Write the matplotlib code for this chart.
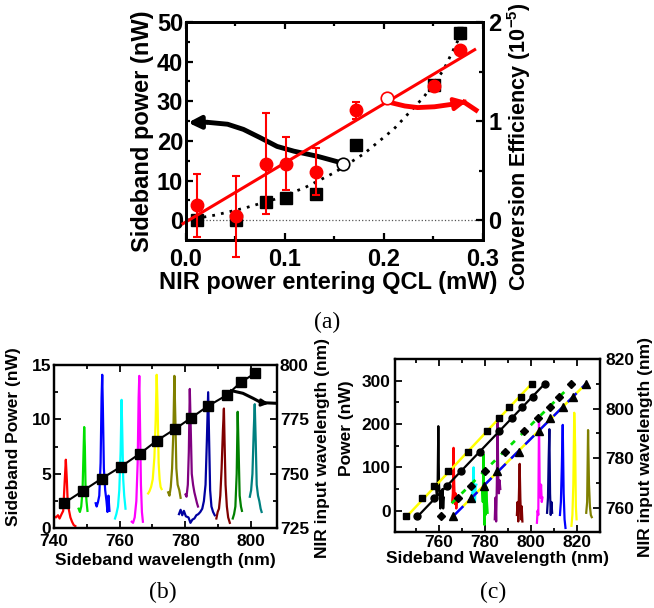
import matplotlib
matplotlib.use('Agg')
import matplotlib.pyplot as plt
from matplotlib.ticker import MultipleLocator

plt.rcParams['font.family'] = ['Liberation Sans', 'DejaVu Sans']
plt.rcParams['font.weight'] = 'bold'
plt.rcParams['axes.labelweight'] = 'bold'
plt.rcParams['mathtext.fontset'] = 'custom'
plt.rcParams['mathtext.rm'] = 'Liberation Sans:bold'
plt.rcParams['mathtext.it'] = 'Liberation Sans:bold'
plt.rcParams['mathtext.bf'] = 'Liberation Sans:bold'

# ---------------- panel (a) data ----------------
nir_power = [0.011, 0.051, 0.081, 0.101, 0.131, 0.172, 0.251, 0.277]
sideband_nw = [0.0, 0.0, 4.5, 5.7, 6.5, 18.9, 34.0, 47.2]
sideband_err = [0, 0, 0, 0, 0, 0, 0.8, 1.5]
conv_eff = [0.15, 0.04, 0.57, 0.57, 0.49, 1.11, 1.355, 1.72]
conv_err = [0.32, 0.41, 0.51, 0.27, 0.24, 0.085, 0.03, 0.04]
# dotted guide through the sideband power
guide_x = [0.0, 0.03, 0.06, 0.09, 0.12, 0.15, 0.18, 0.21, 0.24, 0.26, 0.277]
guide_y = [0.0, 1.3, 3.1, 5.3, 8.2, 12.0, 16.8, 23.0, 31.0, 37.8, 46.5]
# linear fit of conversion efficiency
eff_fit_x = [-0.003, 0.2916]
eff_fit_y = [-0.035, 1.72]
# curved arrows
arrow_k_x = [0.155, 0.133, 0.109, 0.092, 0.075, 0.058, 0.042, 0.021]
arrow_k_y = [14.6, 16.1, 17.4, 18.6, 20.8, 22.9, 24.2, 24.7]
arrow_r_x = [0.206, 0.221, 0.234, 0.251, 0.268, 0.281, 0.293]
arrow_r_y = [1.188, 1.152, 1.136, 1.144, 1.168, 1.19, 1.11]

# ---------------- panel (b) data ----------------
b_sb_wl = [743.0, 748.7, 754.5, 760.4, 766.2, 771.3, 776.8, 781.9, 786.8, 792.6, 797.1, 801.3]
b_nir_wl = [736.5, 742.1, 747.8, 753.3, 759.3, 765.2, 770.5, 775.8, 781.0, 786.1, 792.2, 796.2]
b_arrow_x = [794.1, 797.6, 800.7, 803.2, 807.9]
b_arrow_y = [788.2, 787.0, 784.7, 782.7, 782.4]
b_spec_x = [
    [740.0, 740.6, 741.2, 741.7, 742.3, 742.8, 743.2, 743.6, 743.9, 744.2, 744.6, 745.0, 745.5, 746.0, 746.5],
    [747.5, 747.9, 748.3, 748.7, 749.0, 749.2, 749.4, 749.6, 749.9, 750.2],
    [752.7, 753.0, 753.4, 753.8, 754.2, 754.5, 754.7, 754.9, 755.2, 755.6, 756.0, 756.3, 756.6, 756.9],
    [758.6, 759.0, 759.5, 759.9, 760.3, 760.6, 760.8, 761.1, 761.4, 761.8],
    [763.7, 764.1, 764.6, 765.1, 765.5, 765.8, 766.0, 766.2, 766.5, 766.8, 767.1],
    [768.7, 769.1, 769.6, 770.1, 770.6, 771.0, 771.3, 771.6, 771.9, 772.2, 772.5, 772.8],
    [774.8, 775.2, 775.6, 776.0, 776.4, 776.7, 777.0, 777.3, 777.7, 778.2, 778.6],
    [780.1, 780.4, 780.8, 781.1, 781.4, 781.7, 782.0, 782.4, 782.8, 783.2, 783.6, 783.9],
    [778.1, 778.6, 779.1, 779.6, 780.2, 781.0, 781.6, 782.2, 782.8, 783.4, 784.0, 784.6, 785.2, 785.7,
     786.2, 786.6, 787.0, 787.3, 787.6, 788.0, 788.5, 789.0],
    [789.5, 789.9, 790.3, 790.7, 791.1, 791.5, 791.8, 792.0, 792.3, 792.7, 793.1, 793.6],
    [794.5, 794.9, 795.3, 795.7, 796.0, 796.3, 796.6, 797.0, 797.3],
    [799.7, 800.1, 800.5, 800.9, 801.2, 801.5, 801.8, 802.2, 802.6, 803.0, 803.3],
]
b_spec_y = [
    [1.1, 1.0, 1.2, 0.9, 1.3, 1.6, 4.0, 6.3, 4.5, 2.2, 1.6, 1.0, 0.6, 0.3, 0.2],
    [1.8, 1.5, 2.0, 3.5, 7.0, 9.3, 7.5, 4.0, 2.5, 1.6],
    [2.3, 2.0, 2.4, 3.0, 6.0, 12.0, 14.1, 11.0, 5.5, 3.5, 2.5, 1.5, 3.0, 1.6],
    [0.9, 1.3, 2.0, 3.5, 7.0, 11.8, 9.0, 4.5, 3.0, 1.8],
    [0.6, 0.5, 1.0, 2.5, 6.0, 12.0, 14.0, 10.0, 4.0, 1.5, 0.6],
    [3.2, 3.4, 3.8, 4.5, 6.5, 10.0, 14.1, 11.0, 6.0, 4.5, 3.8, 3.6],
    [3.3, 3.0, 3.8, 5.5, 9.0, 14.0, 10.0, 5.5, 4.0, 3.5, 2.8],
    [3.1, 2.9, 4.0, 7.0, 12.8, 9.0, 5.0, 4.0, 3.3, 2.8, 2.3, 2.0],
    [1.3, 1.7, 1.2, 1.6, 1.1, 1.0, 0.5, 0.8, 0.9, 1.2, 1.3, 1.5, 1.8, 2.5,
     4.0, 8.0, 12.5, 8.0, 3.5, 2.0, 1.5, 1.2],
    [0.9, 1.5, 1.8, 3.0, 5.5, 9.0, 11.0, 8.0, 4.0, 2.0, 1.0, 0.5],
    [0.9, 1.3, 2.0, 5.0, 10.7, 7.0, 3.0, 2.0, 1.6],
    [2.9, 3.5, 5.0, 9.0, 11.4, 8.0, 4.0, 3.0, 2.5, 1.8, 1.5],
]
b_spec_colors = ['#ff0000', '#00e000', '#0000ff', '#00ffff', '#ff00ff', '#ffff00',
                 '#808000', '#800080', '#0000a0', '#800000', '#008000', '#008080']

# ---------------- panel (c) data ----------------
c_nir_rows = [756.7, 763.7, 768.8, 774.9, 782.6, 790.9, 796.0, 800.7, 804.8, 809.9]
c_sq_x = [745.6, 752.7, 757.9, 764.1, 772.6, 780.9, 786.1, 790.4, 795.6, 800.4]
c_ci_x = [750.7, 757.8, 763.4, 769.7, 778.0, 786.1, 791.6, 796.3, 800.7, 806.2]
c_di_x = [760.9, 768.2, 773.9, 779.9, 788.8, 797.0, 802.9, 808.3, 812.4, 817.5]
c_tr_x = [766.3, 773.9, 779.5, 785.3, 794.8, 803.6, 808.4, 813.8, 818.2, 824.1]
c_sq_fit = ([745.4, 800.5], [755.7, 810.2])
c_ci_fit = ([750.7, 806.2], [756.3, 810.2])
c_di_fit = ([765.6, 814.6], [761.7, 806.8])
c_tr_fit = ([766.8, 824.1], [757.0, 810.2])
c_tr_fit2 = ([770.5, 824.1], [760.5, 810.2])
c_spec_x = [
    [758.8, 759.2, 759.5, 759.8, 760.1, 760.4, 760.7, 761.0, 761.3, 761.6, 761.9, 762.2],
    [765.8, 766.1, 766.4, 766.7, 767.0, 767.3, 767.6, 767.9, 768.2],
    [774.4, 774.8, 775.1, 775.4, 775.7, 776.0, 776.3],
    [778.8, 779.1, 779.4, 779.6, 779.8, 780.1, 780.3, 780.6, 780.9, 781.2],
    [784.3, 784.6, 784.9, 785.2, 785.5, 785.8, 786.1, 786.4, 786.7],
    [793.9, 794.2, 794.5, 794.8, 795.1, 795.4, 795.7, 796.0, 796.3],
    [802.6, 802.9, 803.2, 803.5, 803.8, 804.1, 804.4, 804.7, 805.0],
    [807.0, 807.4, 807.7, 808.0, 808.3, 808.6, 808.9, 809.2],
    [812.6, 813.0, 813.4, 813.8, 814.2, 814.6, 815.0],
    [817.6, 818.0, 818.4, 818.8, 819.2, 819.5, 819.8],
    [824.0, 824.4, 824.8, 825.2, 825.6, 826.0, 826.4],
]
c_spec_y = [
    [55, 30, 60, 195, 60, 40, 5, 45, 10, 50, 5, 30],
    [20, 40, 145, 60, 15, 40, 5, 30, 20],
    [30, 60, 100, 40, 20, 55, 60],
    [50, 20, 130, 10, -33, 60, -10, 55, 20, -5],
    [-20, 30, -25, 60, 215, 80, 40, 70, 50],
    [-10, 20, -25, 40, 108, 30, -20, 10, -25],
    [-28, 0, -10, 209, 60, 30, 60, 20, 30],
    [-5, 30, 120, 188, 40, -10, 20, -5],
    [-10, 20, 100, 198, 40, -20, -40],
    [-35, -10, 60, 226, 150, 10, -20],
    [-5, 20, 186, 60, 10, -10, -15],
]
c_spec_colors = ['#000000', '#ff0000', '#00ffff', '#00e000', '#800080', '#800000',
                 '#ff00ff', '#000080', '#0000ff', '#ffff00', '#808000']

fig = plt.figure(figsize=(6.54, 6.08), dpi=100)


def style_axes(ax, ax2, size, lw):
    for sp in ax.spines.values():
        sp.set_linewidth(lw)
    for sp in ax2.spines.values():
        sp.set_linewidth(lw)
    ax.tick_params(which='both', direction='in', top=True, right=False, width=lw * 0.8, labelsize=size)
    ax.tick_params(which='major', length=5)
    ax.tick_params(which='minor', length=3)
    ax2.tick_params(which='both', direction='in', width=lw * 0.8, labelsize=size)
    ax2.tick_params(which='major', length=5)
    ax2.tick_params(which='minor', length=3)


# ================= panel (a) =================
ax = fig.add_axes([0.2844, 0.6053, 0.4541, 0.3586])
ax2 = ax.twinx()
style_axes(ax, ax2, 17, 2.0)
ax.tick_params(axis='x', pad=6)
ax.tick_params(axis='y', pad=2)
ax2.tick_params(axis='y', pad=4)

ax.plot([0, 0.3], [0, 0], ls=':', color='#555555', lw=0.9)
ax.plot(guide_x, guide_y, ls=(0, (1, 2.2)), color='k', lw=2)
ax.errorbar(nir_power, sideband_nw, yerr=sideband_err, fmt='s', color='k', ms=8,
            capsize=2, elinewidth=1.2, zorder=3)
ax.plot(arrow_k_x, arrow_k_y, color='k', lw=3.5, solid_capstyle='butt')
ax.annotate('', xy=(0.002, 24.6), xytext=(arrow_k_x[-1], arrow_k_y[-1]),
            arrowprops=dict(arrowstyle='-|>', color='k', lw=3.5, mutation_scale=18,
                            shrinkA=0, shrinkB=0))
ax.plot([0.159], [14.1], 'o', mfc='white', mec='k', ms=9, mew=1.2, zorder=4)

ax2.plot(eff_fit_x, eff_fit_y, color='#ff0000', lw=2.2, clip_on=False)
ax2.errorbar(nir_power, conv_eff, yerr=conv_err, fmt='o', color='#ff0000', ms=9,
             capsize=3, elinewidth=1.5, capthick=1.5, clip_on=False, zorder=3)
ax2.plot(arrow_r_x[:6], arrow_r_y[:6], color='#ff0000', lw=3.5)
ax2.plot(arrow_r_x[5:], arrow_r_y[5:], color='#ff0000', lw=3.5)
ax2.annotate('', xy=(0.284, 1.20), xytext=(0.268, 1.168),
             arrowprops=dict(arrowstyle='-|>', color='#ff0000', lw=3, mutation_scale=18,
                             shrinkA=0, shrinkB=0))
ax2.plot([0.203], [1.228], 'o', mfc='white', mec='#ff0000', ms=9, mew=1.2, zorder=4)

ax.set_xlim(0, 0.3)
ax.set_ylim(-5, 50)
ax2.set_ylim(-0.2, 2.0)
ax.set_xticks([0, 0.1, 0.2, 0.3])
ax.set_xticklabels(['0.0', '0.1', '0.2', '0.3'])
ax.xaxis.set_minor_locator(MultipleLocator(0.05))
ax.yaxis.set_major_locator(MultipleLocator(10))
ax.yaxis.set_minor_locator(MultipleLocator(5))
ax2.set_yticks([0, 1, 2])
ax2.set_yticklabels(['0', '1', '2'])
ax2.yaxis.set_minor_locator(MultipleLocator(0.5))

ax.set_xlabel('NIR power entering QCL (mW)', fontsize=17)
ax.xaxis.set_label_coords(0.48, -0.142)
ax.set_ylabel('Sideband power (nW)', fontsize=17)
ax.yaxis.set_label_coords(-0.108, 0.5)
ax2.set_ylabel('Conversion Efficiency (10$^{-5}$)', fontsize=15.5)
ax2.yaxis.set_label_coords(1.075, 0.43)

# ================= panel (b) =================
bx = fig.add_axes([0.0826, 0.1311, 0.341, 0.2686])
bx2 = bx.twinx()
style_axes(bx, bx2, 12.5, 1.6)
bx.tick_params(axis='x', pad=4)
bx.tick_params(axis='y', pad=2)
bx2.tick_params(axis='y', pad=2)
for xs, ys, c in zip(b_spec_x, b_spec_y, b_spec_colors):
    bx.plot(xs, ys, color=c, lw=1.6)
bx2.plot(b_sb_wl, b_nir_wl, color='k', lw=1.5, marker='s', ms=6.5)
bx2.plot(b_arrow_x, b_arrow_y, color='k', lw=2.2)
bx2.annotate('', xy=(805.5, 782.3), xytext=(803.2, 782.7),
             arrowprops=dict(arrowstyle='-|>', color='k', lw=2, mutation_scale=10,
                             shrinkA=0, shrinkB=0))
bx.set_xlim(740, 808)
bx.set_ylim(0, 15)
bx2.set_ylim(725, 800)
bx.xaxis.set_major_locator(MultipleLocator(20))
bx.xaxis.set_minor_locator(MultipleLocator(10))
bx.yaxis.set_major_locator(MultipleLocator(5))
bx.yaxis.set_minor_locator(MultipleLocator(2.5))
bx2.yaxis.set_major_locator(MultipleLocator(25))
bx2.yaxis.set_minor_locator(MultipleLocator(12.5))
bx.set_xlabel('Sideband wavelength (nm)', fontsize=12.5)
bx.xaxis.set_label_coords(0.5, -0.15)
bx.set_ylabel('Sideband Power (nW)', fontsize=12.5)
bx.yaxis.set_label_coords(-0.15, 0.56)
bx2.set_ylabel('NIR input wavelength (nm)', fontsize=12.5)
bx2.yaxis.set_label_coords(1.17, 0.49)

# ================= panel (c) =================
cx = fig.add_axes([0.604, 0.1245, 0.3135, 0.285])
cx2 = cx.twinx()
style_axes(cx, cx2, 12.5, 1.6)
cx.tick_params(axis='x', pad=2)
cx.tick_params(axis='y', pad=3)
cx2.tick_params(axis='y', pad=4)
for xs, ys, c in zip(c_spec_x, c_spec_y, c_spec_colors):
    cx.plot(xs, ys, color=c, lw=1.6)
cx2.plot(*c_sq_fit, color='#ffff00', lw=1.8)
cx2.plot(*c_ci_fit, color='k', lw=1.6)
cx2.plot(*c_di_fit, color='#00e000', lw=2, ls=(0, (2, 3)))
cx2.plot(*c_tr_fit2, color='#ffff00', lw=1.8)
cx2.plot(*c_tr_fit, color='#0000ff', lw=1.8, ls=(0, (5, 3)))
cx2.plot(c_sq_x, c_nir_rows, 's', color='k', ms=5)
cx2.plot(c_ci_x, c_nir_rows, 'o', color='k', ms=5)
cx2.plot(c_di_x, c_nir_rows, 'D', color='k', ms=4.5)
cx2.plot(c_tr_x, c_nir_rows, '^', color='k', ms=5.5)
cx.set_xlim(741, 830)
cx.set_ylim(-50, 350)
cx2.set_ylim(750, 820)
cx.xaxis.set_major_locator(MultipleLocator(20))
cx.xaxis.set_minor_locator(MultipleLocator(10))
cx.yaxis.set_major_locator(MultipleLocator(100))
cx.yaxis.set_minor_locator(MultipleLocator(50))
cx2.yaxis.set_major_locator(MultipleLocator(20))
cx2.yaxis.set_minor_locator(MultipleLocator(10))
cx.set_xlabel('Sideband Wavelength (nm)', fontsize=12.5)
cx.xaxis.set_label_coords(0.5, -0.11)
cx.set_ylabel('Power (nW)', fontsize=12.5)
cx.yaxis.set_label_coords(-0.2, 0.6)
cx2.set_ylabel('NIR input wavelength (nm)', fontsize=12.5)
cx2.yaxis.set_label_coords(1.185, 0.49)

for txt, x, y in [('(a)', 0.5, 0.469), ('(b)', 0.249, 0.025), ('(c)', 0.754, 0.025)]:
    fig.text(x, y, txt, family='Liberation Serif', weight='normal', fontsize=17,
             ha='center', va='center')

fig.savefig('out.png', dpi=100)
